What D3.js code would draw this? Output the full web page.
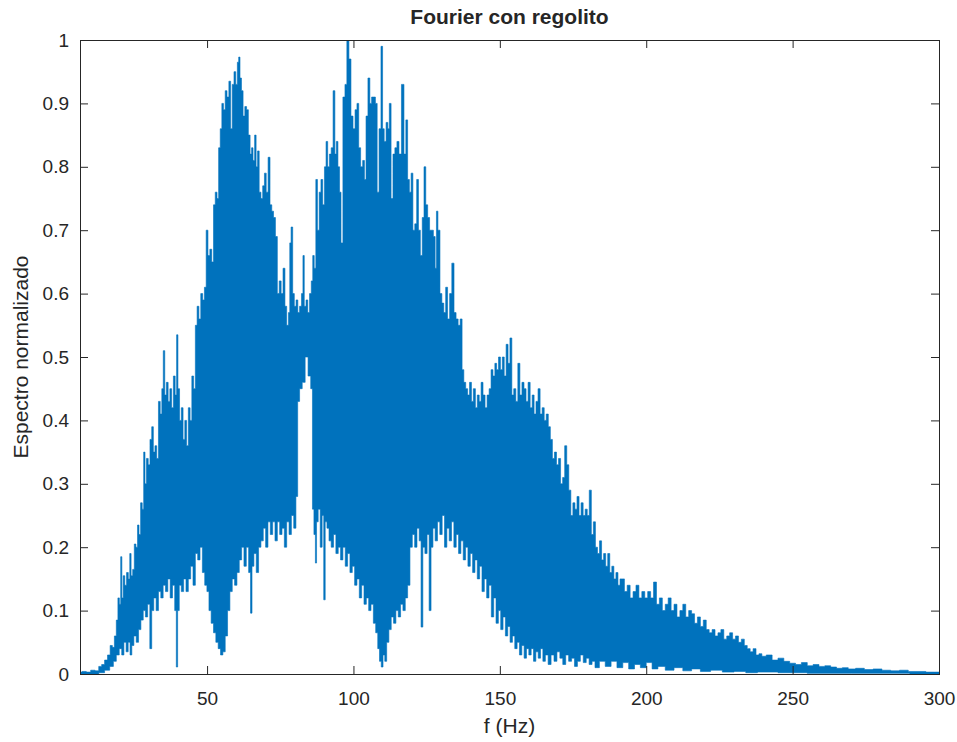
<!DOCTYPE html>
<html>
<head>
<meta charset="utf-8">
<script src="https://cdn.jsdelivr.net/npm/d3@7"></script>
<style>
  body { margin: 0; background: #fff; }
  text { font-family: "Liberation Sans", Arial, sans-serif; fill: #262626; }
</style>
</head>
<body>
<div id="chart-area"></div>
<script>

// axis ticks
let xTicks = [50, 100, 150, 200, 250, 300];
let xTickLabels = ["50", "100", "150", "200", "250", "300"];
let yTicks = [0, 0.1, 0.2, 0.3, 0.4, 0.5, 0.6, 0.7, 0.8, 0.9, 1];
let yTickLabels = ["0", "0.1", "0.2", "0.3", "0.4", "0.5", "0.6", "0.7", "0.8", "0.9", "1"];

// upper edge of the spectrum: [f (Hz), value]
let upperEdge = [
	[6.6,0.003],[8,0.004],[9.5,0.003],[11,0.006],[12.5,0.005],[13.5,0.012],[14.5,0.015],[15.5,0.022],
	[16.5,0.03],[17.3,0.045],[18,0.042],[18.7,0.06],[19.3,0.085],[19.8,0.12],[20.3,0.11],[20.7,0.185],
	[21.1,0.12],[21.6,0.155],[22.2,0.14],[22.8,0.16],[23.4,0.15],[23.8,0.19],[24.3,0.155],[24.9,0.165],
	[25.4,0.205],[26,0.2],[26.5,0.235],[27,0.22],[27.6,0.27],[28.1,0.26],[28.6,0.35],[29,0.3],
	[29.6,0.34],[30.2,0.33],[30.8,0.37],[31.4,0.39],[31.9,0.35],[32.5,0.36],[33.1,0.34],[33.7,0.43],
	[34.3,0.41],[34.8,0.45],[35.3,0.51],[35.8,0.44],[36.4,0.46],[37,0.43],[37.6,0.45],[38.2,0.42],
	[38.8,0.47],[39.4,0.44],[39.8,0.535],[40.3,0.45],[40.9,0.4],[41.5,0.42],[42.1,0.37],[42.7,0.4],
	[43.3,0.36],[43.9,0.42],[44.5,0.4],[45.1,0.47],[45.7,0.45],[46.3,0.55],[46.9,0.58],[47.5,0.56],
	[48.2,0.6],[48.8,0.59],[49.4,0.61],[50,0.7],[50.6,0.66],[51.3,0.67],[51.9,0.65],[52.5,0.74],
	[53.1,0.76],[53.7,0.75],[54.2,0.83],[54.8,0.86],[55.3,0.9],[55.9,0.89],[56.5,0.92],[57.1,0.91],
	[57.8,0.935],[58.3,0.86],[58.9,0.93],[59.5,0.95],[60.1,0.93],[60.6,0.965],[61,0.973],[61.5,0.94],
	[62,0.92],[62.6,0.88],[63.2,0.895],[63.8,0.89],[64.4,0.85],[65,0.82],[65.4,0.83],[66,0.81],
	[66.5,0.85],[67,0.8],[67.5,0.825],[68.1,0.76],[68.7,0.75],[69.3,0.77],[69.9,0.79],[70.5,0.76],
	[71.2,0.815],[71.8,0.74],[72.4,0.73],[73,0.72],[73.7,0.69],[74.3,0.6],[75,0.62],[75.6,0.6],
	[76.3,0.64],[76.9,0.58],[77.5,0.55],[78.1,0.57],[78.4,0.68],[79,0.705],[79.5,0.6],[80.1,0.58],
	[80.7,0.59],[81.3,0.57],[81.9,0.58],[82.6,0.6],[82.9,0.66],[83.5,0.58],[84.1,0.59],[84.7,0.57],
	[85.3,0.6],[85.9,0.62],[86.3,0.66],[86.9,0.64],[87.4,0.78],[88,0.7],[88.6,0.76],[89.2,0.78],
	[89.8,0.74],[90.4,0.8],[90.9,0.84],[91.5,0.8],[92.1,0.82],[92.7,0.83],[93.4,0.92],[93.9,0.82],
	[94.4,0.84],[95,0.8],[95.5,0.76],[96,0.68],[96.8,0.91],[97.4,0.93],[98.1,1.0],[98.8,0.97],
	[99.5,0.88],[100.2,0.86],[100.9,0.89],[101.5,0.9],[102.1,0.83],[102.8,0.8],[103.5,0.81],[104,0.78],
	[104.6,0.88],[105.3,0.94],[105.9,0.9],[106.5,0.91],[107.2,0.91],[107.8,0.9],[108.4,0.76],[109.1,0.86],
	[109.7,0.99],[110.2,0.86],[110.8,0.84],[111.5,0.87],[112,0.86],[112.5,0.9],[113.2,0.75],[113.8,0.82],
	[114.5,0.83],[115.2,0.84],[115.9,0.82],[116.9,0.93],[117.6,0.82],[118.2,0.874],[118.8,0.78],[119.4,0.76],
	[120,0.79],[120.6,0.7],[121.3,0.71],[121.9,0.78],[122.5,0.7],[123.2,0.66],[123.8,0.72],[124.4,0.8],
	[125,0.74],[125.7,0.72],[126.3,0.7],[127,0.7],[127.6,0.69],[128.2,0.64],[128.5,0.73],[129.2,0.7],
	[129.9,0.6],[130.5,0.585],[131.2,0.57],[131.8,0.61],[132.5,0.56],[133.2,0.6],[134,0.648],[134.7,0.57],
	[135.4,0.56],[136.1,0.55],[136.8,0.56],[137.4,0.48],[138,0.46],[138.7,0.45],[139.3,0.44],[140,0.46],
	[140.6,0.43],[141.3,0.45],[142,0.42],[142.6,0.44],[143.3,0.43],[143.9,0.46],[144.6,0.44],[145.3,0.42],
	[146,0.44],[146.7,0.45],[147.3,0.48],[148,0.47],[148.6,0.49],[149.2,0.48],[149.9,0.5],[150.5,0.48],
	[151.2,0.5],[151.8,0.47],[152.5,0.52],[153.1,0.49],[153.8,0.53],[154.4,0.44],[155.1,0.45],[155.8,0.43],
	[156.5,0.49],[157.2,0.44],[157.9,0.46],[158.6,0.45],[159.3,0.43],[160,0.46],[160.7,0.42],[161.4,0.44],
	[162,0.41],[162.7,0.43],[163.4,0.45],[164.1,0.41],[164.8,0.42],[165.5,0.4],[166.2,0.41],[166.9,0.39],
	[167.6,0.37],[168.3,0.34],[169,0.35],[169.7,0.33],[170.4,0.34],[171.1,0.3],[171.8,0.31],[172.5,0.36],
	[173.2,0.33],[173.9,0.29],[174.6,0.25],[175.3,0.27],[176,0.26],[176.7,0.28],[177.4,0.25],[178.1,0.27],
	[178.8,0.25],[179.5,0.26],[180.2,0.25],[180.9,0.29],[181.6,0.22],[182.3,0.24],[183,0.2],[183.7,0.19],
	[184.4,0.21],[185.1,0.18],[185.8,0.19],[186.5,0.17],[187.2,0.19],[187.9,0.16],[188.6,0.17],[189.3,0.15],
	[190,0.16],[190.7,0.14],[191.4,0.15],[192.1,0.15],[193,0.13],[194,0.14],[195,0.12],[196,0.13],
	[197,0.14],[198,0.12],[199,0.13],[200,0.12],[201,0.13],[202,0.12],[203,0.145],[204,0.11],
	[205,0.12],[206,0.1],[207,0.11],[208,0.12],[209,0.1],[210,0.11],[211,0.09],[212,0.1],
	[213,0.11],[214,0.09],[215,0.1],[216,0.095],[217,0.08],[218,0.09],[219,0.075],[220,0.085],
	[221,0.07],[222,0.065],[223,0.07],[224,0.06],[225,0.065],[226,0.07],[227,0.055],[228,0.06],
	[229,0.065],[230,0.055],[231,0.06],[232,0.05],[233,0.055],[234,0.045],[235,0.04],[236,0.035],
	[237,0.04],[238,0.03],[239,0.032],[240,0.028],[242,0.03],[244,0.022],[246,0.025],[248,0.02],
	[250,0.017],[252,0.015],[254,0.018],[256,0.013],[258,0.015],[260,0.012],[262,0.013],[264,0.011],
	[266,0.009],[268,0.01],[270,0.008],[273,0.009],[276,0.007],[279,0.008],[282,0.006],[285,0.005],
	[288,0.006],[291,0.004],[294,0.004],[297,0.003],[300,0.003]
];

// lower edge of the spectrum: [f (Hz), value]
let lowerEdge = [
	[6.6,0],[12,0],[14,0.002],[16,0.006],[17.5,0.012],[18.5,0.02],[19.5,0.03],[20.5,0.04],
	[21.2,0.03],[22,0.05],[22.7,0.035],[23.4,0.05],[24,0.03],[24.6,0.045],[25.4,0.06],[26.2,0.05],
	[27,0.07],[27.8,0.085],[28.6,0.1],[29.3,0.09],[30.1,0.11],[30.8,0.04],[31.4,0.1],[32.2,0.12],
	[33,0.1],[33.8,0.13],[34.6,0.12],[35.4,0.14],[36.2,0.13],[37,0.15],[37.8,0.12],[38.6,0.14],
	[39.3,0.1],[39.7,0.011],[40.2,0.1],[40.8,0.14],[41.6,0.13],[42.4,0.15],[43.2,0.13],[44,0.15],
	[44.8,0.17],[45.6,0.14],[46.4,0.19],[47.2,0.18],[48,0.2],[48.8,0.16],[49.6,0.14],[50.3,0.13],
	[51,0.1],[51.8,0.08],[52.6,0.065],[53.4,0.05],[54.2,0.04],[55,0.03],[55.8,0.035],[56.6,0.06],
	[57.4,0.1],[58.2,0.13],[59,0.15],[59.8,0.14],[60.6,0.16],[61.4,0.18],[62.2,0.2],[63,0.17],
	[63.8,0.2],[64.6,0.16],[65.1,0.096],[65.6,0.17],[66.4,0.19],[67.2,0.16],[68,0.2],[68.8,0.21],
	[69.6,0.23],[70.4,0.2],[71.2,0.24],[72,0.22],[72.8,0.24],[73.6,0.21],[74.4,0.24],[75.2,0.22],
	[76,0.23],[76.8,0.2],[77.6,0.24],[78.4,0.22],[79.2,0.25],[80,0.23],[80.7,0.28],[81.2,0.43],
	[82,0.45],[83,0.46],[84,0.5],[85,0.47],[85.8,0.45],[86.2,0.26],[86.8,0.22],[87.2,0.175],
	[87.6,0.24],[88.3,0.26],[89,0.2],[89.6,0.25],[90.1,0.117],[90.6,0.24],[91.3,0.23],[92,0.21],
	[92.8,0.2],[93.6,0.22],[94.4,0.19],[95.2,0.2],[96,0.18],[96.8,0.2],[97.6,0.17],[98.4,0.19],
	[99.2,0.16],[100,0.17],[100.8,0.14],[101.6,0.15],[102.4,0.12],[103.2,0.14],[104,0.11],[104.8,0.12],
	[105.6,0.1],[106.4,0.11],[107.2,0.08],[108,0.065],[108.6,0.04],[109.2,0.02],[109.8,0.011],[110.4,0.03],
	[111,0.02],[111.7,0.05],[112.5,0.07],[113.3,0.09],[114.1,0.08],[114.9,0.1],[115.7,0.09],[116.5,0.11],
	[117.3,0.1],[118.1,0.12],[118.9,0.14],[119.7,0.2],[120.5,0.22],[121.3,0.2],[122.1,0.23],[122.8,0.21],
	[123.4,0.074],[124,0.2],[124.8,0.19],[125.5,0.22],[126.2,0.1],[126.8,0.2],[127.5,0.23],[128.3,0.21],
	[129.1,0.24],[129.9,0.22],[130.7,0.25],[131.5,0.2],[132.3,0.23],[133.1,0.21],[133.9,0.24],[134.7,0.2],
	[135.5,0.22],[136.3,0.19],[137.1,0.21],[137.9,0.18],[138.7,0.2],[139.5,0.17],[140.3,0.19],[141.1,0.16],
	[141.9,0.18],[142.7,0.15],[143.5,0.17],[144.3,0.13],[145.1,0.15],[145.9,0.12],[146.7,0.14],[147.5,0.09],
	[148.3,0.12],[149.1,0.08],[149.9,0.1],[150.7,0.07],[151.5,0.09],[152.3,0.06],[153.1,0.075],[153.9,0.05],
	[154.7,0.06],[155.5,0.04],[156.3,0.05],[157.1,0.03],[157.9,0.045],[158.7,0.025],[159.5,0.04],[160.3,0.03],
	[161.1,0.04],[161.9,0.02],[162.7,0.035],[163.5,0.025],[164.3,0.04],[165.1,0.02],[166,0.03],[167,0.015],
	[168,0.03],[169,0.02],[170,0.035],[171,0.025],[172,0.015],[173,0.03],[174,0.02],[175,0.025],
	[176,0.012],[177,0.02],[178,0.03],[179,0.018],[180,0.025],[181,0.015],[182,0.02],[183,0.01],
	[185,0.02],[187,0.012],[189,0.02],[191,0.01],[193,0.018],[195,0.008],[197,0.015],[199,0.01],
	[201,0.018],[203,0.008],[205,0.012],[208,0.006],[211,0.01],[214,0.005],[217,0.008],[220,0.004],
	[224,0.006],[228,0.003],[232,0.004],[236,0.002],[240,0.003],[250,0.002],[260,0.001],[280,0.001],
	[300,0]
];

let margin = {top: 40, right: 18, bottom: 68, left: 80};
let width = 957 - margin.left - margin.right;
let height = 742 - margin.top - margin.bottom;

let svg = d3.select("#chart-area").append("svg")
		.attr("width", width + margin.left + margin.right)
		.attr("height", height + margin.top + margin.bottom)
	.append("g")
		.attr("transform", "translate(" + margin.left + "," + margin.top + ")");

// scales
let x = d3.scaleLinear()
	.domain([6.6, 300])
	.range([0, width]);

let y = d3.scaleLinear()
	.domain([0, 1])
	.range([height, 0]);

svg.append("clipPath")
	.attr("id", "plot-clip")
	.append("rect")
	.attr("width", width)
	.attr("height", height);

// spectrum: outline made of upper edge then lower edge going back,
// stepped so the edges read as thin vertical spikes like the dense line
let outline = upperEdge.concat(lowerEdge.slice().reverse());

let line = d3.line()
	.x(d => x(d[0]))
	.y(d => y(d[1]))
	.curve(d3.curveStep);

svg.append("path")
	.attr("clip-path", "url(#plot-clip)")
	.attr("d", line(outline))
	.attr("fill", "#0072BD")
	.attr("stroke", "#0072BD")
	.attr("stroke-width", 0.6);

// axes (ticks pointing inward, box on)
let axisColor = "#262626";

let xAxis = d3.axisBottom(x)
	.tickValues(xTicks)
	.tickFormat((d, i) => xTickLabels[i])
	.tickSize(-8)
	.tickPadding(18);

let yAxis = d3.axisLeft(y)
	.tickValues(yTicks)
	.tickFormat((d, i) => yTickLabels[i])
	.tickSize(-8)
	.tickPadding(11);

let xAxisGroup = svg.append("g")
	.attr("class", "x-axis axis")
	.attr("transform", "translate(0," + height + ")")
	.call(xAxis);

let yAxisGroup = svg.append("g")
	.attr("class", "y-axis axis")
	.call(yAxis);

svg.append("g")
	.attr("class", "axis")
	.call(d3.axisTop(x).tickValues(xTicks).tickFormat("").tickSize(-8));

svg.append("g")
	.attr("class", "axis")
	.attr("transform", "translate(" + width + ",0)")
	.call(d3.axisRight(y).tickValues(yTicks).tickFormat("").tickSize(-8));

svg.selectAll(".axis .domain").remove();
svg.selectAll(".axis line").attr("stroke", axisColor);
svg.selectAll(".axis text")
	.attr("fill", axisColor)
	.style("font-size", "19px")
	.style("font-family", "'Liberation Sans', Arial, sans-serif");

svg.append("rect")
	.attr("width", width)
	.attr("height", height)
	.attr("fill", "none")
	.attr("stroke", axisColor)
	.attr("stroke-width", 1)
	.attr("shape-rendering", "crispEdges");

// title and labels
svg.append("text")
	.attr("x", width / 2)
	.attr("y", -16)
	.attr("text-anchor", "middle")
	.style("font-size", "21px")
	.style("font-weight", "bold")
	.text("Fourier con regolito");

svg.append("text")
	.attr("x", width / 2)
	.attr("y", height + 59)
	.attr("text-anchor", "middle")
	.style("font-size", "21px")
	.text("f (Hz)");

svg.append("text")
	.attr("transform", "translate(" + (-52) + "," + (height / 2) + ") rotate(-90)")
	.attr("text-anchor", "middle")
	.style("font-size", "21px")
	.text("Espectro normalizado");

</script>
</body>
</html>
